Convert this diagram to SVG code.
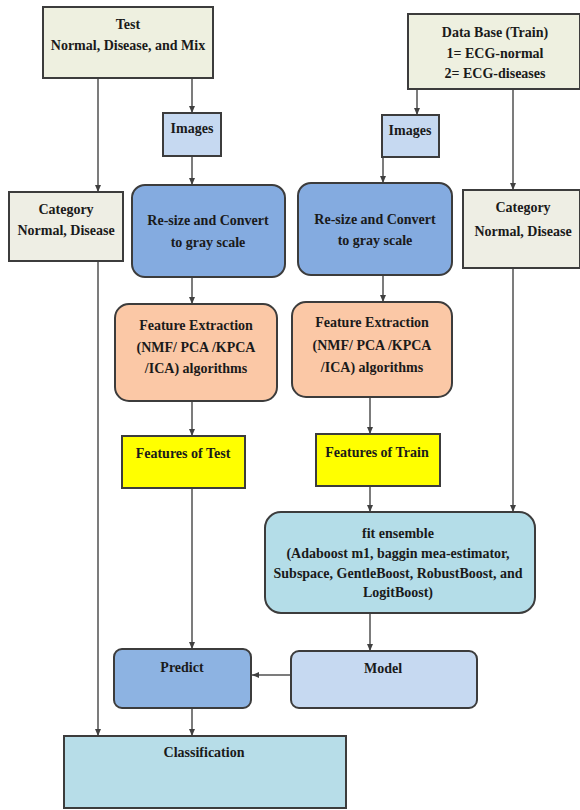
<svg xmlns="http://www.w3.org/2000/svg" width="580" height="810" viewBox="0 0 580 810">
<style>
text{font-family:"Liberation Serif","Times New Roman",serif;font-weight:bold;font-size:14px;fill:#1a1a1a;text-anchor:middle}
.b{stroke:#3c3c3c;stroke-width:2}
.c{stroke:#505050;stroke-width:1.5;fill:none}
</style>
<defs>
<marker id="a" markerWidth="8" markerHeight="8" refX="7" refY="4" orient="auto" markerUnits="userSpaceOnUse">
<path d="M0,1 L7,4 L0,7 z" fill="#404040"/>
</marker>
</defs>
<rect width="580" height="810" fill="#fff"/>
<g id="connectors">
<path class="c" d="M98,78 V192" marker-end="url(#a)"/>
<path class="c" d="M98,261 V736" marker-end="url(#a)"/>
<path class="c" d="M192,78 V113" marker-end="url(#a)"/>
<path class="c" d="M192,156 V185" marker-end="url(#a)"/>
<path class="c" d="M192,277 V304" marker-end="url(#a)"/>
<path class="c" d="M192,401 V436" marker-end="url(#a)"/>
<path class="c" d="M192,488 V649" marker-end="url(#a)"/>
<path class="c" d="M192,708 V736" marker-end="url(#a)"/>
<path class="c" d="M417,89 V115" marker-end="url(#a)"/>
<path class="c" d="M383,157 V183" marker-end="url(#a)"/>
<path class="c" d="M383,275 V302" marker-end="url(#a)"/>
<path class="c" d="M370,397 V434" marker-end="url(#a)"/>
<path class="c" d="M370,486 V512" marker-end="url(#a)"/>
<path class="c" d="M513,89 V190" marker-end="url(#a)"/>
<path class="c" d="M513,268 V512" marker-end="url(#a)"/>
<path class="c" d="M370,613 V651" marker-end="url(#a)"/>
<path class="c" d="M291,675 H252" marker-end="url(#a)"/>
</g>
<g id="test"><rect class="b" x="43" y="7" width="170" height="71" fill="#eef0e0"/>
<text x="128" y="29">Test</text><text x="128" y="50">Normal, Disease, and Mix</text></g>
<g id="database"><rect class="b" x="408" y="14" width="172" height="75" fill="#eef0e0"/>
<text x="495" y="37">Data Base (Train)</text><text x="495" y="58">1= ECG-normal</text><text x="495" y="78">2= ECG-diseases</text></g>
<g id="images-test"><rect class="b" x="163" y="113" width="58" height="43" fill="#c6d9f1"/>
<text x="192" y="133">Images</text></g>
<g id="images-train"><rect class="b" x="382" y="115" width="57" height="42" fill="#c6d9f1"/>
<text x="410" y="135">Images</text></g>
<g id="category-test"><rect class="b" x="9" y="192" width="114" height="69" fill="#eeeee4"/>
<text x="66" y="214">Category</text><text x="66" y="235">Normal, Disease</text></g>
<g id="category-train"><rect class="b" x="463" y="190" width="117" height="78" fill="#eeeee4"/>
<text x="523" y="212">Category</text><text x="523" y="236">Normal, Disease</text></g>
<g id="resize-test"><rect class="b" x="132" y="185" width="153" height="92" rx="13" fill="#84abe0"/>
<text x="208" y="225">Re-size and Convert</text><text x="208" y="247">to gray scale</text></g>
<g id="resize-train"><rect class="b" x="298" y="183" width="154" height="92" rx="13" fill="#84abe0"/>
<text x="375" y="224">Re-size and Convert</text><text x="375" y="245">to gray scale</text></g>
<g id="fe-test"><rect class="b" x="115" y="304" width="162" height="97" rx="14" fill="#fbc8a6"/>
<text x="196" y="330">Feature Extraction</text><text x="196" y="352">(NMF/ PCA /KPCA</text><text x="196" y="373">/ICA) algorithms</text></g>
<g id="fe-train"><rect class="b" x="292" y="302" width="160" height="95" rx="14" fill="#fbc8a6"/>
<text x="372" y="327">Feature Extraction</text><text x="372" y="350">(NMF/ PCA /KPCA</text><text x="372" y="372">/ICA) algorithms</text></g>
<g id="features-test"><rect class="b" x="122" y="436" width="123" height="52" fill="#ffff00"/>
<text x="183" y="458">Features of Test</text></g>
<g id="features-train"><rect class="b" x="316" y="434" width="124" height="52" fill="#ffff00"/>
<text x="377" y="457">Features of Train</text></g>
<g id="fit"><rect class="b" x="265" y="512" width="270" height="101" rx="16" fill="#b4dde8"/>
<text x="398" y="538">fit ensemble</text><text x="398" y="558">(Adaboost m1, baggin mea-estimator,</text><text x="398" y="578">Subspace, GentleBoost, RobustBoost, and</text><text x="398" y="597">LogitBoost)</text></g>
<g id="predict"><rect class="b" x="114" y="649" width="137" height="59" rx="8" fill="#8db3e2"/>
<text x="182" y="672">Predict</text></g>
<g id="model"><rect class="b" x="291" y="651" width="186" height="57" rx="8" fill="#c6d9f1"/>
<text x="383" y="673">Model</text></g>
<g id="classification"><rect class="b" x="64" y="736" width="282" height="72" fill="#b7dde8"/>
<text x="204" y="757">Classification</text></g>
</svg>
